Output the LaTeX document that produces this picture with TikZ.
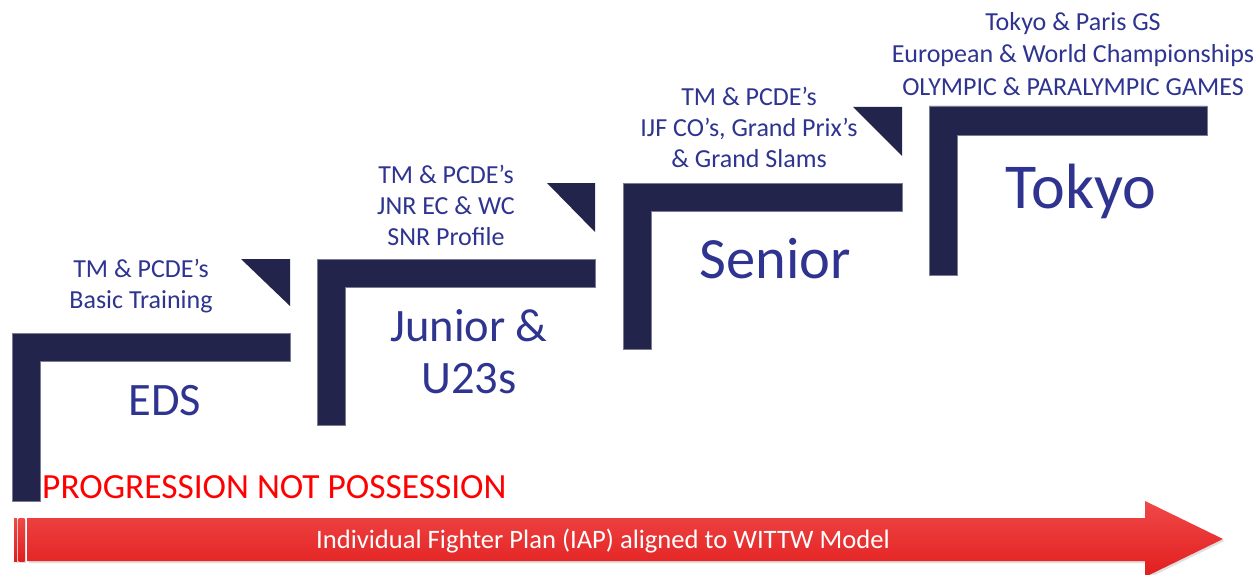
\documentclass[tikz,border=0pt]{standalone}
\usepackage{fontspec}
\setmainfont{Carlito}
\usetikzlibrary{shadows}
\definecolor{navy}{RGB}{34,36,76}
\definecolor{txtblue}{RGB}{46,52,143}
\definecolor{arrowtop}{RGB}{240,72,72}
\definecolor{arrowbot}{RGB}{226,30,30}
\tikzset{
  stepshape/.style={fill=navy, draw=navy!60!white, line width=0.4pt},
  corner/.style={fill=navy, draw=none},
  smalllbl/.style={text=txtblue, align=center, inner sep=0pt, anchor=base,
    font=\fontsize{26}{31}\selectfont},
  toplbl/.style={text=txtblue, align=center, inner sep=0pt, anchor=base,
    font=\fontsize{26}{32.5}\selectfont},
  biglbl/.style={text=txtblue, align=center, inner sep=0pt, anchor=base},
}
\begin{document}
\begin{tikzpicture}[x=1pt,y=-1pt]
\useasboundingbox (0,0) rectangle (1260,575);
% step shapes
\path[stepshape] (12,333) -- (290,333) -- (290,361) -- (40,361) -- (40,501) -- (12,501) -- cycle;
\path[corner] (241,259) -- (290,259) -- (290,306) -- cycle;
\path[stepshape] (317,259) -- (595,259) -- (595,287) -- (345,287) -- (345,425) -- (317,425) -- cycle;
\path[corner] (547,183) -- (595,183) -- (595,232) -- cycle;
\path[stepshape] (623,183) -- (902,183) -- (902,211) -- (651,211) -- (651,349) -- (623,349) -- cycle;
\path[corner] (853,107) -- (902,107) -- (902,156) -- cycle;
\path[stepshape] (929,106) -- (1207,106) -- (1207,135) -- (957,135) -- (957,275) -- (929,275) -- cycle;
% arrow
\path[top color=arrowtop, bottom color=arrowbot, drop shadow={opacity=0.25, shadow xshift=1.5pt, shadow yshift=-2pt}]
  (14,518) rectangle (17,561);
\path[top color=arrowtop, bottom color=arrowbot, drop shadow={opacity=0.25, shadow xshift=1.5pt, shadow yshift=-2pt}]
  (18.5,518) rectangle (24.5,561);
\path[top color=arrowtop, bottom color=arrowbot, drop shadow={opacity=0.25, shadow xshift=1.5pt, shadow yshift=-2pt}]
  (27,518) -- (1145,518) -- (1145,501) -- (1223,539) -- (1145,577) -- (1145,561) -- (27,561) -- cycle;
\node[text=white, inner sep=0pt, anchor=base, font=\fontsize{26.6}{30}\selectfont] (plan) at (603,548)
  {Individual Fighter Plan (IAP) aligned to WITTW Model};
% labels (anchor=base is the baseline of the last line)
\node[smalllbl] (l1) at (141,308.5) {TM \& PCDE’s\\Basic Training};
\node[smalllbl] (l2) at (446,245.5) {TM \& PCDE’s\\JNR EC \& WC\\SNR Profile};
\node[smalllbl] (l3) at (749,167.5) {TM \& PCDE’s\\IJF CO’s, Grand Prix’s\\\& Grand Slams};
\node[toplbl] (l4) at (1073,95.5) {Tokyo \& Paris GS\\European \& World Championships\\OLYMPIC \& PARALYMPIC GAMES};
\node[biglbl, font=\fontsize{46.5}{52}\selectfont] (eds) at (165,415) {EDS};
\node[biglbl, font=\fontsize{46.5}{52}\selectfont] (jun) at (469,393) {Junior \&\\U23s};
\node[biglbl, font=\fontsize{58.5}{64}\selectfont] (sen) at (775,278) {Senior};
\node[biglbl, font=\fontsize{64}{70}\selectfont] (tok) at (1081,208.5) {Tokyo};
\node[text=red, inner sep=0pt, anchor=base west, font=\fontsize{35.4}{40}\selectfont] (prog) at (42,498)
  {PROGRESSION NOT POSSESSION};
\end{tikzpicture}
\end{document}
